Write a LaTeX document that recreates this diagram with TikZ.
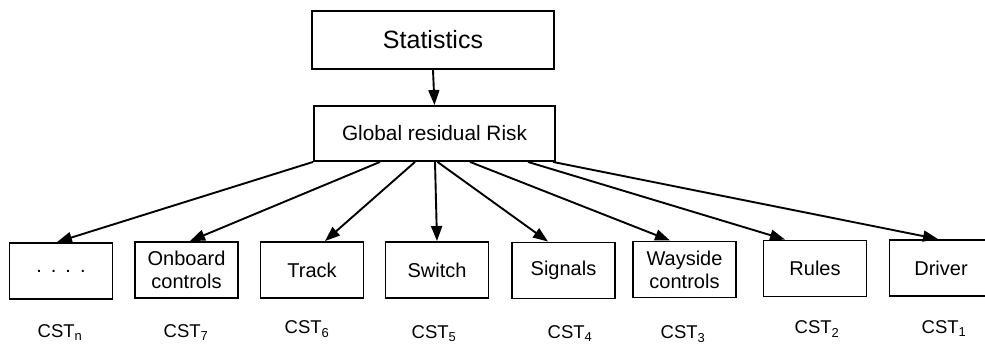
\documentclass[tikz,border=0pt]{standalone}
\usepackage{fontspec}
\setmainfont{Liberation Sans}
\usetikzlibrary{arrows.meta}
\begin{document}
\begin{tikzpicture}[x=1pt,y=1pt,
  line width=1.9pt,
  box/.style={draw, line width=1.9pt, minimum width=103pt, minimum height=56pt, inner sep=0pt, align=center, font=\fontsize{20}{23}\selectfont},
  topbox/.style={draw, line width=1.9pt, inner sep=0pt, align=center},
  cst/.style={anchor=base, inner sep=0pt, font=\fontsize{18.5}{20}\selectfont},
  arr/.style={-{Triangle[length=15pt,width=11pt]}, line width=1.9pt}]
\useasboundingbox (0,0) rectangle (985,344);

% top of the hierarchy
\node[topbox, minimum width=242pt, minimum height=58pt, font=\fontsize{25}{28}\selectfont] (stat) at (433,304) {Statistics};
\node[topbox, minimum width=241pt, minimum height=55pt, font=\fontsize{20.8}{24}\selectfont] (grr) at (434.5,210.5) {Global residual Risk};

% contributing subsystems
\node[box] (bn) at (61,73) {.\hspace{0.45em}.\hspace{0.45em}.\hspace{0.45em}.};
\node[box] (b7) at (186.5,74) {Onboard\\controls};
\node[box] (b6) at (312,74) {Track};
\node[box] (b5) at (437,74) {Switch};
\node[box] (b4) at (563.5,73.5) {Signals};
\node[box] (b3) at (684.5,74.5) {Wayside\\controls};
\node[box] (b2) at (815,75.5) {Rules};
\node[box] (b1) at (941,76) {Driver};

% subsystem labels
\node[cst] (ln) at (60,6)  {CST\textsubscript{n}};
\node[cst] (l7) at (186,6) {CST\textsubscript{7}};
\node[cst] (l6) at (307,10) {CST\textsubscript{6}};
\node[cst] (l5) at (434,5) {CST\textsubscript{5}};
\node[cst] (l4) at (570,5) {CST\textsubscript{4}};
\node[cst] (l3) at (683,5) {CST\textsubscript{3}};
\node[cst] (l2) at (817,10) {CST\textsubscript{2}};
\node[cst] (l1) at (944,10) {CST\textsubscript{1}};

% connectors
\draw[arr] (stat.south) -- (grr.north);
\draw[arr] (grr.south west) -- ([xshift=-4pt]bn.north);
\draw[arr] ([xshift=-54.5pt]grr.south) -- ([xshift=3.5pt]b7.north);
\draw[arr] ([xshift=-19.5pt]grr.south) -- ([xshift=13pt]b6.north);
\draw[arr] ([xshift=0.5pt]grr.south) -- (b5.north);
\draw[arr] ([xshift=3pt]grr.south) -- ([xshift=-15.5pt]b4.north);
\draw[arr] ([xshift=35.5pt]grr.south) -- ([xshift=-14.5pt]b3.north);
\draw[arr] ([xshift=93.5pt]grr.south) -- ([xshift=-30pt]b2.north);
\draw[arr] ([xshift=-3pt]grr.south east) -- ([xshift=-3pt]b1.north);
\end{tikzpicture}
\end{document}
